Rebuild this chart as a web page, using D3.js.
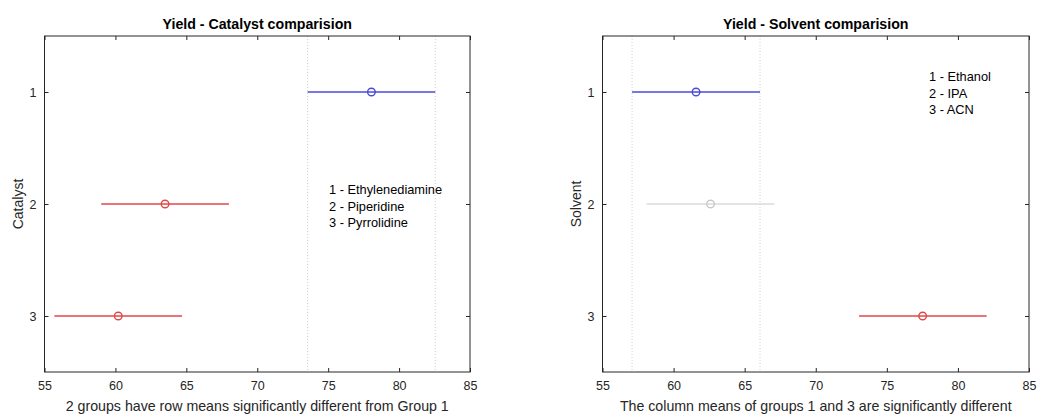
<!DOCTYPE html>
<html><head><meta charset="utf-8">
<script src="https://cdn.jsdelivr.net/npm/d3@7"></script>
<style>body{margin:0;background:#fff}svg{display:block}text{font-family:"Liberation Sans",Arial,sans-serif}</style>
</head><body>
<svg id="c" width="1037" height="414"></svg>
<script>
const groups = [1, 2, 3];
const xTicks = [55, 60, 65, 70, 75, 80, 85];

const catTitle = "Yield - Catalyst comparision";
const catYLabel = "Catalyst";
const catXLabel = "2 groups have row means significantly different from Group 1";
const catNames = ["1 - Ethylenediamine", "2 - Piperidine", "3 - Pyrrolidine"];
const catMeans = [78.05, 63.5, 60.2];
const catLow = [73.55, 59.0, 55.7];
const catHigh = [82.55, 68.0, 64.7];
const catStatus = ["sel", "sig", "sig"];

const solTitle = "Yield - Solvent comparision";
const solYLabel = "Solvent";
const solXLabel = "The column means of groups 1 and 3 are significantly different";
const solNames = ["1 - Ethanol", "2 - IPA", "3 - ACN"];
const solMeans = [61.58, 62.6, 77.52];
const solLow = [57.08, 58.1, 73.05];
const solHigh = [66.08, 67.1, 82.02];
const solStatus = ["sel", "ns", "sig"];

const colors = {sel: "#4a4ad8", sig: "#e04848", ns: "#c8c8c8"};
const svg = d3.select("#c");

function panel(cfg) {
  const {left, right, top, bottom} = cfg;
  const x = d3.scaleLinear().domain([55, 85]).range([left, right]);
  const y = d3.scaleLinear().domain([0.5, 3.5]).range([top, bottom]);
  const g = svg.append("g");
  const axisColor = "#262626";
  const si = cfg.status.indexOf("sel");
  [cfg.low[si], cfg.high[si]].forEach(v => {
    g.append("line").attr("x1", x(v)).attr("x2", x(v)).attr("y1", top).attr("y2", bottom)
      .attr("stroke", "#d0d0d0").attr("stroke-width", 1).attr("stroke-dasharray", "1,2");
  });
  g.append("rect").attr("x", left).attr("y", top).attr("width", right - left).attr("height", bottom - top)
    .attr("fill", "none").attr("stroke", axisColor).attr("stroke-width", 1);
  const xb = g.append("g").attr("transform", `translate(0,${bottom})`)
    .call(d3.axisBottom(x).tickValues(xTicks).tickSize(-4).tickPadding(9).tickFormat(d3.format("d")));
  const xt = g.append("g").attr("transform", `translate(0,${top})`)
    .call(d3.axisTop(x).tickValues(xTicks).tickSize(-4).tickFormat(""));
  const yl = g.append("g").attr("transform", `translate(${left},0)`)
    .call(d3.axisLeft(y).tickValues(groups).tickSize(-4).tickPadding(8).tickFormat(d3.format("d")));
  const yr = g.append("g").attr("transform", `translate(${right},0)`)
    .call(d3.axisRight(y).tickValues(groups).tickSize(-4).tickFormat(""));
  [xb, xt, yl, yr].forEach(a => {
    a.select(".domain").remove();
    a.selectAll("line").attr("stroke", axisColor);
    a.selectAll("text").attr("fill", axisColor).style("font-size", "12.5px")
      .style("font-family", '"Liberation Sans",Arial,sans-serif');
  });
  groups.forEach((gr, i) => {
    const c = colors[cfg.status[i]];
    const sw = cfg.status[i] === "ns" ? 1 : 1.3;
    g.append("line").attr("x1", x(cfg.low[i])).attr("x2", x(cfg.high[i]))
      .attr("y1", y(gr)).attr("y2", y(gr)).attr("stroke", c).attr("stroke-width", sw);
    g.append("circle").attr("cx", x(cfg.means[i])).attr("cy", y(gr)).attr("r", 3.8)
      .attr("fill", "none").attr("stroke", c).attr("stroke-width", 1.4);
  });
  g.append("text").attr("x", (left + right) / 2).attr("y", 29).attr("text-anchor", "middle")
    .style("font-size", "14.2px").style("font-weight", "bold").attr("fill", "#000").text(cfg.title);
  g.append("text").attr("x", (left + right) / 2).attr("y", 411).attr("text-anchor", "middle")
    .style("font-size", "14.2px").attr("fill", "#262626").text(cfg.xlabel);
  g.append("text").attr("transform", `translate(${cfg.ylabX},${(top + bottom) / 2}) rotate(-90)`)
    .attr("text-anchor", "middle").style("font-size", "14px").attr("fill", "#262626").text(cfg.ylabel);
  cfg.names.forEach((n, i) => {
    g.append("text").attr("x", cfg.nameX).attr("y", cfg.nameY + i * 16.5)
      .style("font-size", "12.8px").attr("fill", "#000").text(n);
  });
}

panel({left: 44.5, right: 470, top: 36, bottom: 372, title: catTitle, xlabel: catXLabel, ylabel: catYLabel,
  names: catNames, means: catMeans, low: catLow, high: catHigh, status: catStatus,
  ylabX: 23, nameX: 329, nameY: 194});
panel({left: 602.5, right: 1029, top: 36, bottom: 372, title: solTitle, xlabel: solXLabel, ylabel: solYLabel,
  names: solNames, means: solMeans, low: solLow, high: solHigh, status: solStatus,
  ylabX: 581, nameX: 929, nameY: 81});
</script>
</body></html>
